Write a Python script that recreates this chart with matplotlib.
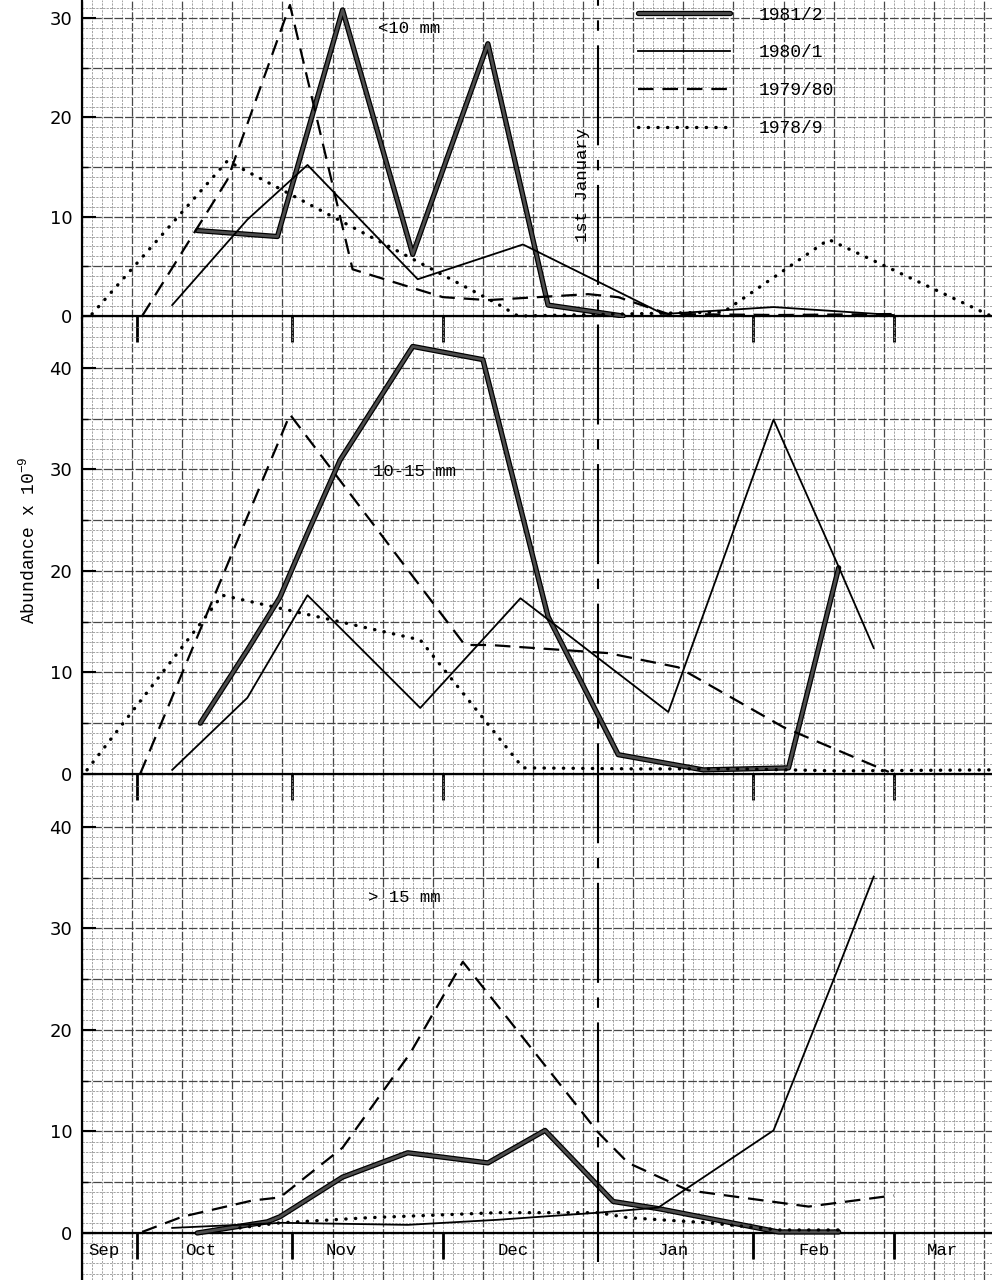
import numpy as np
import matplotlib
matplotlib.use('Agg')
import matplotlib.pyplot as plt
from matplotlib.lines import Line2D
from matplotlib import transforms
import matplotlib.patheffects as pe

plt.rcParams['mathtext.fontset'] = 'custom'
plt.rcParams['mathtext.rm'] = 'Liberation Mono'

MONO = 'Liberation Mono'

# x values are days after 1 September, y values are abundance x 10^-9
seasons = ['1981/2', '1980/1', '1979/80', '1978/9']

# < 10 mm
lt10_8182_day = [42, 58, 71, 85, 100, 112, 127]
lt10_8182_val = [8.6, 8.0, 30.8, 6.2, 27.4, 1.1, 0.0]
lt10_8081_day = [37, 52, 64, 86, 107, 135, 157, 181]
lt10_8081_val = [1.1, 9.7, 15.2, 3.7, 7.2, 0.2, 0.9, 0.1]
lt10_7980_day = [31, 48, 60.5, 73, 84.5, 91, 100, 120, 126, 136, 158, 181]
lt10_7980_val = [0.0, 13.7, 31.3, 4.7, 2.9, 1.9, 1.6, 2.2, 1.9, 0.2, 0.1, 0.2]
lt10_7879_day = [21, 48, 102, 106, 147, 168, 200]
lt10_7879_val = [0.2, 15.6, 1.2, 0.0, 0.4, 7.7, 0.1]

# 10-15 mm
mid_8182_day = [42.6, 52, 58.5, 64, 70.5, 85, 99, 112, 126, 143, 160, 170]
mid_8182_val = [5.0, 12.2, 17.4, 23.7, 30.9, 42.1, 40.8, 15.5, 1.9, 0.4, 0.6, 20.3]
mid_8081_day = [37, 52, 64, 86.5, 106.5, 136, 157, 170, 177]
mid_8081_val = [0.4, 7.5, 17.6, 6.5, 17.3, 6.1, 34.9, 20.4, 12.4]
mid_7980_day = [30.6, 60.5, 95.4, 100.4, 124, 138, 159, 180]
mid_7980_val = [0.0, 35.4, 12.7, 12.7, 11.9, 10.5, 4.6, 0.2]
mid_7879_day = [20, 47, 86.5, 107, 130, 150, 170, 200]
mid_7879_val = [0.4, 17.6, 13.2, 0.6, 0.5, 0.5, 0.3, 0.4]

# > 15 mm
gt15_8182_day = [42, 56, 58.5, 71, 84, 100, 111.4, 125, 134, 158, 170]
gt15_8182_val = [0.0, 1.1, 1.6, 5.5, 7.9, 6.9, 10.1, 3.1, 2.4, 0.1, 0.1]
gt15_8081_day = [37, 59, 84, 102, 122, 134, 157, 170, 177]
gt15_8081_val = [0.5, 1.0, 0.8, 1.3, 2.0, 2.5, 10.1, 26.2, 35.1]
gt15_7980_day = [31, 39, 53, 58.5, 71, 84.5, 95, 122, 128, 140, 164, 181]
gt15_7980_val = [0.1, 1.6, 3.2, 3.5, 8.4, 17.7, 26.7, 9.9, 6.9, 4.2, 2.6, 3.7]
gt15_7879_day = [50.5, 58.5, 76, 102, 122, 128, 144, 158, 170]
gt15_7879_val = [0.5, 1.0, 1.5, 2.0, 2.0, 1.5, 1.0, 0.3, 0.3]

month_names = ['Sep', 'Oct', 'Nov', 'Dec', 'Jan', 'Feb', 'Mar']
month_label_day = [23.4, 42.6, 70.7, 105, 137, 165, 190.8]
month_start_day = [30, 61, 91, 153, 181]
jan1_day = 122

styles = [
    dict(color='0.3', lw=2.0, solid_capstyle='round',
         path_effects=[pe.Stroke(linewidth=3.8, foreground='black'), pe.Normal()]),
    dict(color='black', lw=1.3),
    dict(color='black', lw=1.6, linestyle=(0, (7, 4))),
    dict(color='black', lw=2.4, linestyle=(0, (0.1, 2.8)), dash_capstyle='round'),
]

fig = plt.figure(figsize=(9.92, 12.8), dpi=100)
H = 1280.0


def px_box(top, bottom):
    return [82 / 992, 1 - bottom / H, 910 / 992, (bottom - top) / H]


def paper(ax, y0, y1):
    for x in np.arange(19, 201, 2):
        major = (x - 19) % 10 == 0
        ax.axvline(x, color='0.28' if major else '0.55', lw=0.9 if major else 0.55,
                   linestyle=(0, (7, 1.5)) if major else (0, (3, 1.5)), zorder=0.5)
    for y in np.arange(np.ceil(y0), y1, 1):
        major = y % 5 == 0
        ax.axhline(y, color='0.28' if major else '0.55', lw=0.9 if major else 0.55,
                   linestyle=(0, (7, 1.5)) if major else (0, (3, 1.5)), zorder=0.5)


def panel(ax, series, ylim, yticks, px_per_unit, label, label_xy):
    ax.set_xlim(19, 200.6)
    ax.set_ylim(*ylim)
    ax.patch.set_alpha(0)
    paper(ax, ylim[0], ylim[1])
    lines = []
    for (d, v), st in zip(series, styles):
        ln, = ax.plot(d, v, zorder=3, **st)
        lines.append(ln)
    ax.axhline(0, color='black', lw=1.6, zorder=2)
    tick_len = 26 / px_per_unit
    ax.vlines(month_start_day, -tick_len, 0, colors='black', lw=2, clip_on=False, zorder=5)
    ax.text(label_xy[0], label_xy[1], label, family=MONO, fontsize=12.5,
            ha='left', va='center', zorder=6)
    for s in ['top', 'right', 'bottom']:
        ax.spines[s].set_visible(False)
    ax.spines['left'].set_linewidth(1.6)
    ax.set_xticks([])
    ax.set_yticks(yticks)
    ax.set_yticks([t + 5 for t in yticks if t + 5 < ylim[1]], minor=True)
    ax.tick_params(axis='y', which='major', direction='in', length=10, width=1.5,
                   pad=7, labelsize=13)
    ax.tick_params(axis='y', which='minor', direction='in', length=4, width=1)
    return lines


ax_top = fig.add_axes(px_box(0, 318))
ax_mid = fig.add_axes(px_box(318, 777))
ax_bot = fig.add_axes(px_box(777, 1280))

top_lines = panel(ax_top,
                  [(lt10_8182_day, lt10_8182_val), (lt10_8081_day, lt10_8081_val),
                   (lt10_7980_day, lt10_7980_val), (lt10_7879_day, lt10_7879_val)],
                  (-0.2, 31.8), [0, 10, 20, 30], 9.94, '<10 mm', (78, 28.9))
panel(ax_mid,
      [(mid_8182_day, mid_8182_val), (mid_8081_day, mid_8081_val),
       (mid_7980_day, mid_7980_val), (mid_7879_day, mid_7879_val)],
      (-0.3, 44.9), [0, 10, 20, 30, 40], 10.15, '10-15 mm', (77.1, 29.8))
panel(ax_bot,
      [(gt15_8182_day, gt15_8182_val), (gt15_8081_day, gt15_8081_val),
       (gt15_7980_day, gt15_7980_val), (gt15_7879_day, gt15_7879_val)],
      (-4.63, 44.9), [0, 10, 20, 30, 40], 10.15, '> 15 mm', (76.1, 33.0))

for name, d in zip(month_names, month_label_day):
    ax_bot.text(d, -1.7, name, family=MONO, fontsize=12.5, ha='center', va='center')

ax_top.text(118.8, 13.2, '1st January', family=MONO, fontsize=12.5, rotation=90,
            ha='center', va='center', zorder=6)

blend = transforms.blended_transform_factory(ax_bot.transData, fig.transFigure)
fig.add_artist(Line2D([jan1_day, jan1_day], [1 - 1262 / H, 1], transform=blend,
                      color='black', lw=1.5, linestyle=(0, (48, 7, 5, 7))))

ax_top.legend(top_lines, seasons, loc='upper left', bbox_to_anchor=(0.611, 0.979),
              frameon=False, prop={'family': MONO, 'size': 13}, handlelength=5.1,
              handletextpad=1.6, labelspacing=1.15, borderpad=0, borderaxespad=0)

fig.text(28 / 992, 1 - 540 / H, r'Abundance x 10$^{-9}$', family=MONO, fontsize=13,
         rotation=90, ha='center', va='center')

fig.savefig('out.png', dpi=100, facecolor='white')
